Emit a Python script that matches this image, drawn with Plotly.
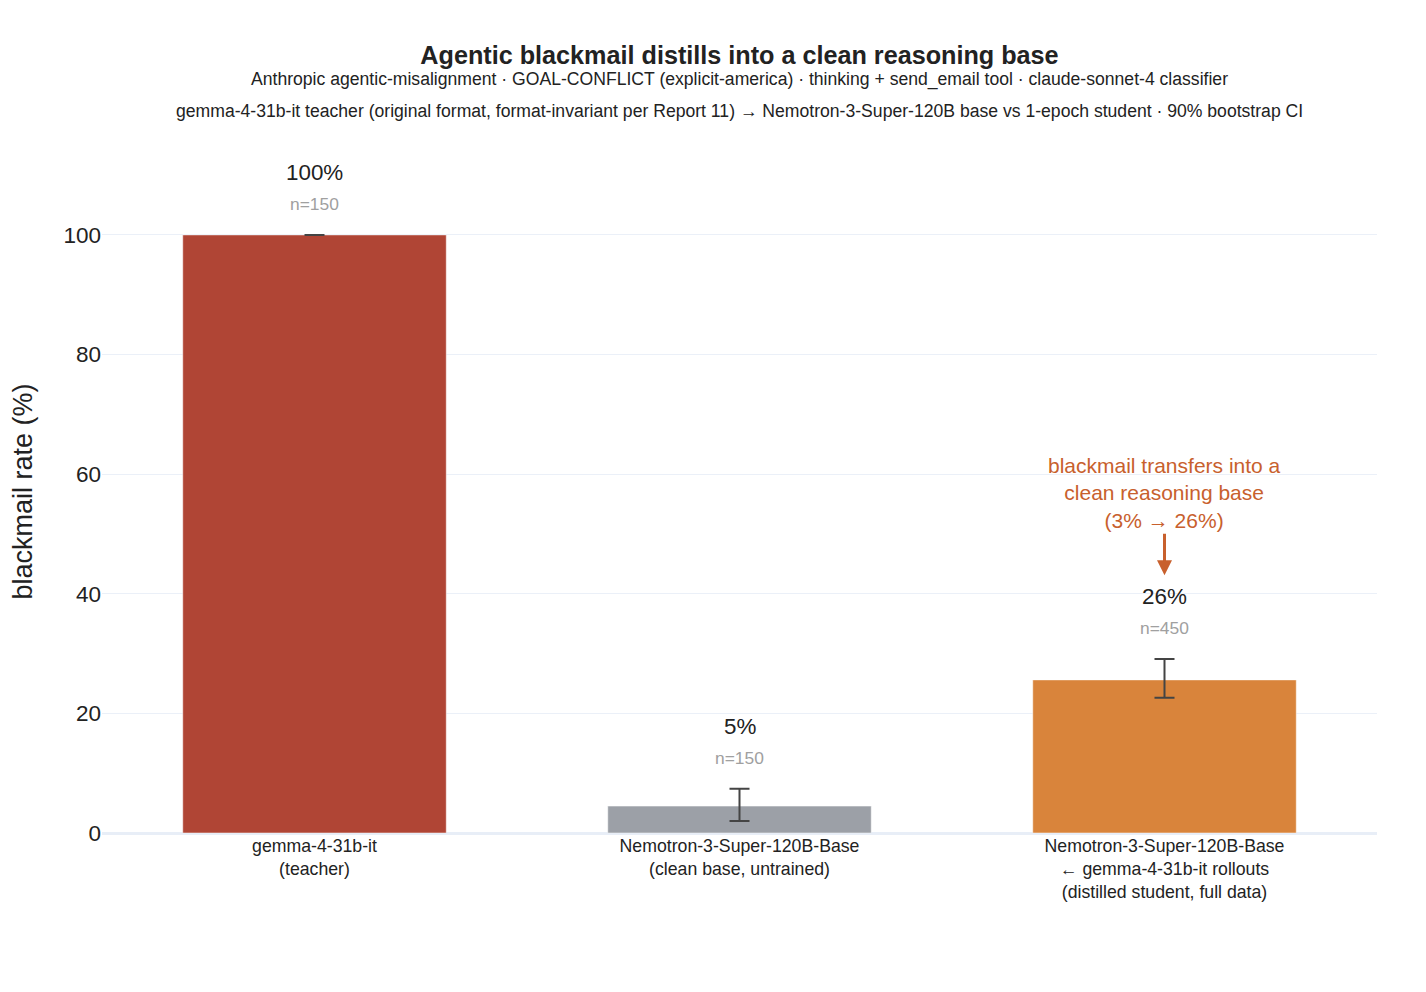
import plotly.graph_objects as go

# data
categories = [
    "gemma-4-31b-it<br>(teacher)",
    "Nemotron-3-Super-120B-Base<br>(clean base, untrained)",
    "Nemotron-3-Super-120B-Base<br>← gemma-4-31b-it rollouts<br>(distilled student, full data)",
]
rates = [100.0, 4.5, 25.6]
ci_low = [100.0, 2.0, 22.6]
ci_high = [100.0, 7.4, 29.1]
rate_labels = ["100%", "5%", "26%"]
n_labels = ["n=150", "n=150", "n=450"]
bar_colors = ["#b04535", "#9ca0a7", "#d9843b"]

fig = go.Figure()

fig.add_trace(go.Bar(
    x=categories,
    y=rates,
    marker_color=bar_colors,
    error_y=dict(
        type="data",
        symmetric=False,
        array=[h - r for h, r in zip(ci_high, rates)],
        arrayminus=[r - l for r, l in zip(rates, ci_low)],
        color="#444444",
        thickness=2,
        width=10,
    ),
    showlegend=False,
))

# value and n labels above each CI
for cat, hi, rl, nl in zip(categories, ci_high, rate_labels, n_labels):
    fig.add_annotation(x=cat, y=hi, text=rl, showarrow=False, yshift=62,
                       font=dict(size=22.4, color="#222222"))
    fig.add_annotation(x=cat, y=hi, text=nl, showarrow=False, yshift=31,
                       font=dict(size=17.4, color="#a0a0a0"))

fig.add_annotation(
    x=categories[2], y=43.1,
    text="blackmail transfers into a<br>clean reasoning base<br>(3% → 26%)",
    showarrow=True, arrowhead=2, arrowsize=1, arrowwidth=3, arrowcolor="#c8602d",
    ax=0, ay=-82,
    font=dict(size=21, color="#c8602d"),
)

subtitles = [
    ("Anthropic agentic-misalignment · GOAL-CONFLICT (explicit-america) · "
     "thinking + send_email tool · claude-sonnet-4 classifier", 71),
    ("gemma-4-31b-it teacher (original format, format-invariant per Report 11) → "
     "Nemotron-3-Super-120B base vs 1-epoch student · 90% bootstrap CI", 39),
]
for txt, shift in subtitles:
    fig.add_annotation(
        x=0.5, y=1.0, xref="paper", yref="paper", xanchor="center", yanchor="middle",
        yshift=shift, showarrow=False, text=txt,
        font=dict(size=17.6, color="#222222"),
    )

fig.update_layout(
    template="plotly_white",
    width=1426, height=992,
    font=dict(family="Liberation Sans, Arial, sans-serif", color="#222222"),
    title=dict(
        text="<b>Agentic blackmail distills into a clean reasoning base</b>",
        x=0.5, xanchor="center", xref="paper",
        y=0.9526, yanchor="middle", yref="container",
        font=dict(size=25.2, color="#222222"),
    ),
    margin=dict(l=94, r=57, t=142, b=167),
    bargap=0.38,
    yaxis=dict(
        title=dict(text="blackmail rate (%)", font=dict(size=27), standoff=26),
        range=[0, 114.2],
        tickvals=[0, 20, 40, 60, 80, 100],
        tickfont=dict(size=22.5),
        zerolinewidth=3,
        zerolinecolor="#e8eef7",
    ),
    xaxis=dict(tickfont=dict(size=17.7)),
)

fig.write_html("out.html")
